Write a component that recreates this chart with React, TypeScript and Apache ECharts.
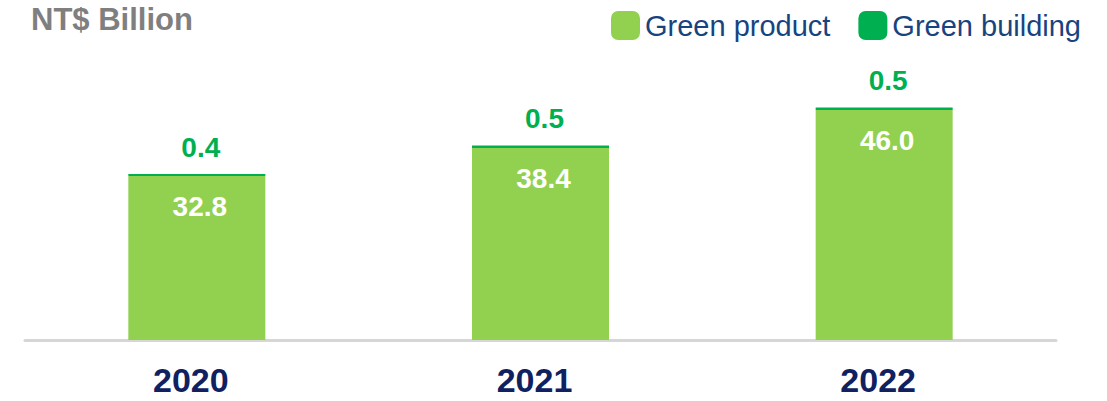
import React, { useEffect, useRef } from "react";
import * as echarts from "echarts";

const years = ["2020", "2021", "2022"];
const greenProduct = [32.8, 38.4, 46.0];
const greenBuilding = [0.4, 0.5, 0.5];

const FONT = "'Liberation Sans', Arial, sans-serif";

export default function App() {
  const ref = useRef<HTMLDivElement>(null);
  useEffect(() => {
    if (!ref.current) return;
    const chart = echarts.init(ref.current, null, { renderer: "svg" });
    chart.setOption({
      animation: false,
      backgroundColor: "#ffffff",
      title: {
        text: "NT$ Billion",
        left: 31,
        top: 4,
        padding: 0,
        textStyle: { fontFamily: FONT, fontSize: 31, fontWeight: "bold", color: "#7f7f7f" },
      },
      legend: {
        right: 26,
        top: 11,
        padding: 0,
        itemWidth: 29,
        itemHeight: 29,
        itemGap: 28,
        icon: "roundRect",
        textStyle: { fontFamily: FONT, fontSize: 29, color: "#17447f", padding: [0, 0, 0, 0] },
        data: ["Green product", "Green building"],
      },
      grid: { left: 25, right: 51, top: 40, bottom: 61, containLabel: false },
      xAxis: {
        type: "category",
        data: years,
        axisLine: { show: true, lineStyle: { color: "#d6d6d6", width: 3 } },
        axisTick: { show: false },
        axisLabel: {
          margin: 23,
          fontFamily: FONT,
          fontSize: 34,
          fontWeight: "bold",
          color: "#0f2160",
          padding: [0, 12, 0, 0],
        },
      },
      yAxis: {
        type: "value",
        min: 0,
        max: 60,
        show: false,
        splitLine: { show: false },
      },
      series: [
        {
          name: "Green product",
          type: "bar",
          stack: "total",
          barWidth: 137,
          data: greenProduct,
          itemStyle: { color: "#92d050" },
          label: {
            show: true,
            position: "insideTop",
            distance: 16,
            offset: [3, 0],
            formatter: (p: any) => p.value.toFixed(1),
            fontFamily: FONT,
            fontSize: 28,
            fontWeight: "bold",
            color: "#ffffff",
          },
        },
        {
          name: "Green building",
          type: "bar",
          stack: "total",
          barWidth: 137,
          data: greenBuilding,
          itemStyle: { color: "#00b050" },
          label: {
            show: true,
            position: "top",
            distance: 13,
            offset: [4, 0],
            formatter: (p: any) => p.value.toFixed(1),
            fontFamily: FONT,
            fontSize: 28,
            fontWeight: "bold",
            color: "#00b050",
          },
        },
      ],
    });
    return () => chart.dispose();
  }, []);
  return (
    <div
      ref={ref}
      style={{ position: "fixed", left: 0, top: 0, width: 1107, height: 401 }}
    />
  );
}
